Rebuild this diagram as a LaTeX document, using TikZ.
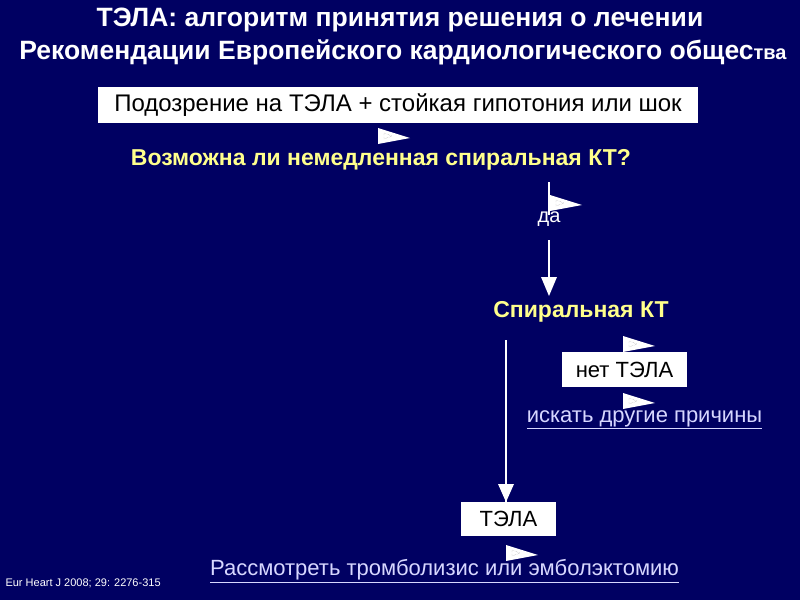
\documentclass[tikz,border=0pt]{standalone}
\usepackage{fontspec}
\setmainfont{Liberation Sans}
\definecolor{navy}{RGB}{0,0,98}
\definecolor{ylw}{RGB}{255,255,140}
\definecolor{lav}{RGB}{215,215,255}
\usetikzlibrary{positioning}
\tikzset{
  whitebox/.style={fill=white,text=black,inner sep=0pt,font=\fontsize{22}{26}\selectfont},
  yellowtext/.style={text=ylw,font=\bfseries\fontsize{23}{27}\selectfont},
  linktext/.style={text=lav,font=\fontsize{22}{26}\selectfont},
  wline/.style={white,line width=2.2pt}
}
% little pennant marker
\newcommand{\pennant}[2]{%
  \fill[white] (#1,#2) -- (#1,#2+16) -- (#1+32,#2+10) -- cycle;
  \draw[gray!70,densely dotted,line width=.4pt] (#1+6,#2+5) -- (#1+6,#2+11) -- (#1+14,#2+8) -- cycle;}
\begin{document}
\begin{tikzpicture}[x=1pt,y=-1pt]
\fill[navy] (0,0) rectangle (800,600);
\useasboundingbox (0,0) rectangle (800,600);
% title
\node[text=white,font=\bfseries\fontsize{26.5}{30}\selectfont] (title1) at (400,20) {ТЭЛА: алгоритм принятия решения о лечении};
\node[text=white,font=\bfseries\fontsize{26.5}{30}\selectfont] (title2) at (403,52) {Рекомендации Европейского кардиологического общес{\fontsize{20}{24}\selectfont тва}};
% boxes and texts
\node[whitebox,minimum width=600,minimum height=36,font=\fontsize{24}{28}\selectfont] (suspect) at (398,105) {Подозрение на ТЭЛА + стойкая гипотония или шок};
\node[yellowtext] (ctq) at (381,160) {Возможна ли немедленная спиральная КТ?};
\node[text=white,font=\fontsize{20}{24}\selectfont] (yes) at (549,219) {да};
\node[yellowtext] (ct) at (581,312) {Спиральная КТ};
\node[whitebox,minimum width=125,minimum height=35] (nope) at (624.5,369.5) {нет ТЭЛА};
\node[linktext] (other) at (644.5,420) {\underline{искать другие причины}};
\node[whitebox,minimum width=95,minimum height=34] (pe) at (508.5,519) {ТЭЛА};
\node[linktext] (lysis) at (444.5,571) {\underline{Рассмотреть тромболизис или эмболэктомию}};
\node[text=white,anchor=west,font=\fontsize{11}{13}\selectfont] (ref) at (2,583) {Eur Heart J 2008; 29: 2276-315};
% connectors
\coordinate (c1) at (549,182);
\coordinate (c2) at (549,215);
\draw[wline] (c1) -- (c2);
\coordinate (c3) at (549,240);
\coordinate (c4) at (549,278);
\draw[wline] (c3) -- (c4);
\fill[white] (541,277) -- (557,277) -- (549,296) -- cycle;
\coordinate (c5) at (506,340);
\draw[wline] (c5) -- (pe.north -| c5);
\fill[white] (498,484) -- (514,484) -- (506,502) -- cycle;
% pennants
\pennant{378}{128}
\pennant{550}{195}
\pennant{623}{336}
\pennant{623}{393}
\pennant{506}{545}
\end{tikzpicture}
\end{document}
